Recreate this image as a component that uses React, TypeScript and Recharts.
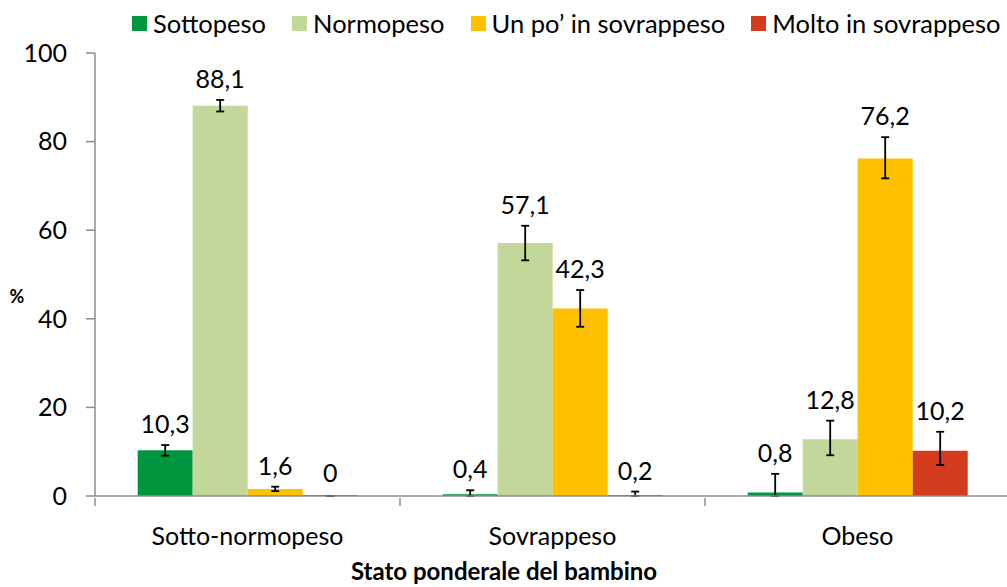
import { BarChart, Bar, XAxis, YAxis, ErrorBar, LabelList } from 'recharts';

const categories = ['Sotto-normopeso', 'Sovrappeso', 'Obeso'];

const sottopeso = [10.3, 0.4, 0.8];
const normopeso = [88.1, 57.1, 12.8];
const unPo = [1.6, 42.3, 76.2];
const molto = [0, 0.2, 10.2];

// error bars as [minus, plus]
const sottopesoErr = [[1.2, 1.2], [0.4, 0.9], [0.8, 4.2]];
const normopesoErr = [[1.3, 1.3], [3.9, 3.9], [3.6, 4.2]];
const unPoErr = [[0.5, 0.5], [4.1, 4.2], [4.5, 4.8]];
const moltoErr = [[0, 0], [0.2, 0.8], [3.2, 4.3]];

const yTicks = [0, 20, 40, 60, 80, 100];

const series = [
  { key: 'sottopeso', name: 'Sottopeso', color: '#00963F' },
  { key: 'normopeso', name: 'Normopeso', color: '#C4D79B' },
  { key: 'unpo', name: 'Un po\u2019 in sovrappeso', color: '#FFC000' },
  { key: 'molto', name: 'Molto in sovrappeso', color: '#D33C1F' },
];

const errs: Record<string, number[][]> = {
  sottopeso: sottopesoErr,
  normopeso: normopesoErr,
  unpo: unPoErr,
  molto: moltoErr,
};

const data = categories.map((c, i) => ({
  cat: c,
  sottopeso: sottopeso[i],
  normopeso: normopeso[i],
  unpo: unPo[i],
  molto: molto[i],
  sottopesoErr: sottopesoErr[i],
  normopesoErr: normopesoErr[i],
  unpoErr: unPoErr[i],
  moltoErr: moltoErr[i],
}));

const FONT = 'Lato, "Liberation Sans", sans-serif';
const AXIS = '#8C8C8C';
const PLOT_H = 443;

function XTick(props: any) {
  const { x, y, payload, index } = props;
  const half = 152.5;
  return (
    <g>
      <line x1={x - half} y1={y} x2={x - half} y2={y + 8} stroke={AXIS} strokeWidth={1.5} />
      {index === categories.length - 1 && (
        <line x1={x + half} y1={y} x2={x + half} y2={y + 8} stroke={AXIS} strokeWidth={1.5} />
      )}
      <text x={x} y={y + 37} textAnchor="middle" dominantBaseline="central" fontSize={25} fill="#000" fontFamily={FONT}>
        {payload.value}
      </text>
    </g>
  );
}

function makeLabel(key: string) {
  return (props: any) => {
    const { x, y, width, height, value, index } = props;
    const base = y + height;
    const e = errs[key][index];
    const top = base - ((value + e[1]) * PLOT_H) / 100;
    const off = e[1] === 0 ? 24 : 22;
    return (
      <text x={x + width / 2} y={top - off} textAnchor="middle" dominantBaseline="central" fontSize={25} fill="#000" fontFamily={FONT}>
        {String(value).replace('.', ',')}
      </text>
    );
  };
}

function ChartLegend() {
  return (
    <div
      style={{
        position: 'absolute',
        left: 132,
        top: 8,
        display: 'flex',
        alignItems: 'center',
        fontFamily: FONT,
        fontSize: 25.5,
        lineHeight: '30px',
        whiteSpace: 'nowrap',
      }}
    >
      {series.map((s) => (
        <div key={s.key} style={{ display: 'flex', alignItems: 'center', marginRight: 26 }}>
          <span style={{ width: 15, height: 15, background: s.color, display: 'inline-block', marginRight: 6 }} />
          <span>{s.name}</span>
        </div>
      ))}
    </div>
  );
}

export default function App() {
  return (
    <div style={{ position: 'absolute', left: 0, top: 0, width: 1007, height: 587, background: '#fff', overflow: 'hidden' }}>
      <BarChart
        width={1010}
        height={587}
        data={data}
        margin={{ top: 53, right: 0, left: 0, bottom: 0 }}
        barCategoryGap="14%"
        barGap={0}
      >
        <XAxis
          dataKey="cat"
          tickLine={false}
          tickSize={0}
          height={91}
          axisLine={{ stroke: AXIS, strokeWidth: 1.5 }}
          tick={<XTick />}
          interval={0}
          label={{
            content: () => (
              <text x={504} y={580} textAnchor="middle" fontSize={24} fontWeight="bold" fontFamily={FONT} fill="#000">
                Stato ponderale del bambino
              </text>
            ),
          }}
        />
        <YAxis
          domain={[0, 100]}
          ticks={yTicks}
          width={95}
          tickSize={9}
          tickMargin={19}
          axisLine={{ stroke: AXIS, strokeWidth: 1.5 }}
          tickLine={{ stroke: AXIS, strokeWidth: 1.5 }}
          tick={{ fontSize: 25, fill: '#000', fontFamily: FONT }}
          label={{
            content: () => (
              <text x={17} y={296} textAnchor="middle" dominantBaseline="central" fontSize={18} fontWeight="bold" fontFamily={FONT} fill="#000">
                %
              </text>
            ),
          }}
        />
        {series.map((s) => (
          <Bar
            key={s.key}
            dataKey={s.key}
            name={s.name}
            fill={s.color}
            minPointSize={s.key === 'molto' ? 1 : 0}
            isAnimationActive={false}
          >
            <ErrorBar dataKey={`${s.key}Err`} width={4} stroke="#000" strokeWidth={1.8} />
            <LabelList dataKey={s.key} content={makeLabel(s.key)} />
          </Bar>
        ))}
      </BarChart>
      <ChartLegend />
    </div>
  );
}
